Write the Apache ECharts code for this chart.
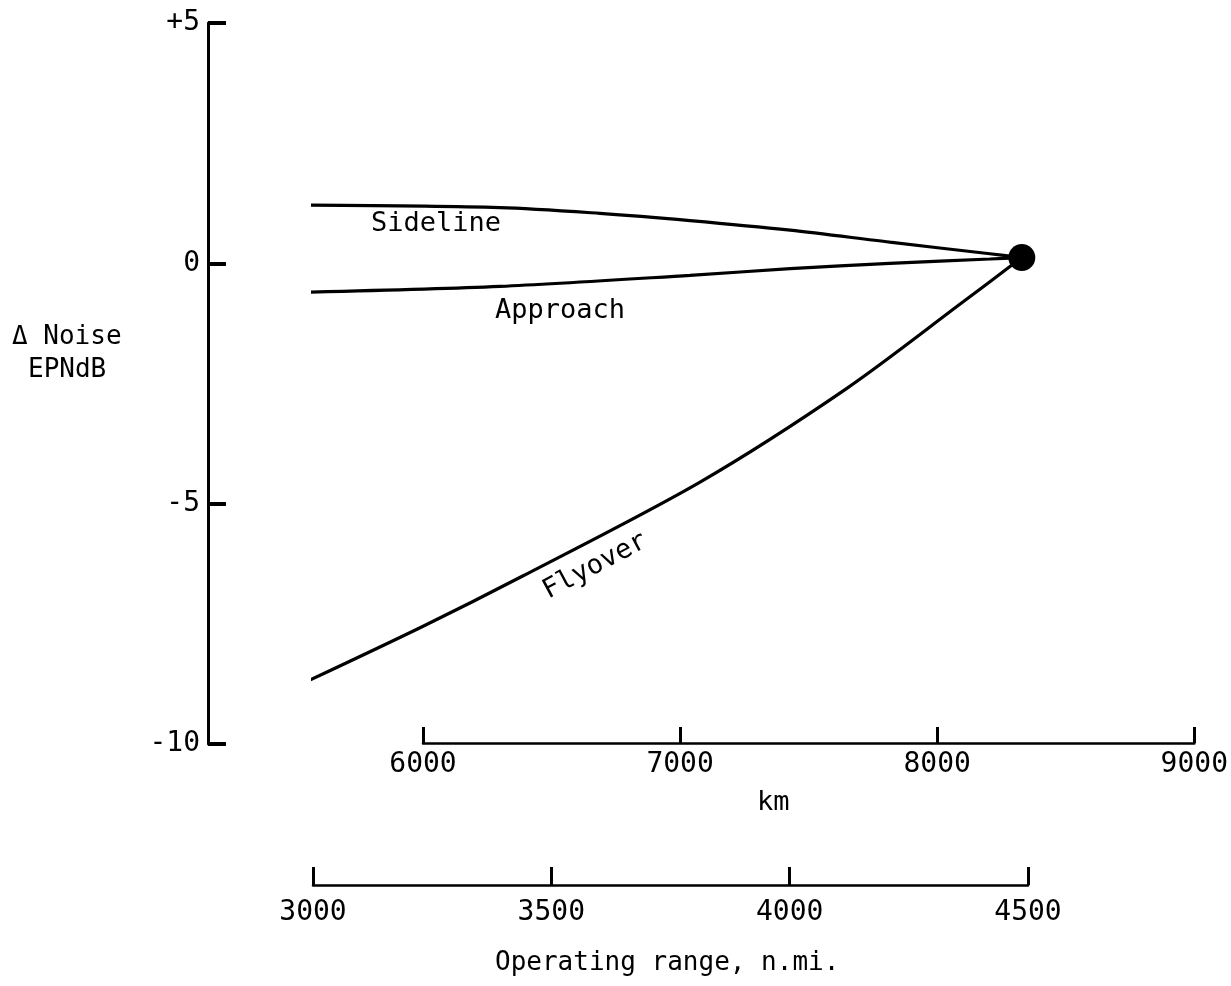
<!DOCTYPE html>
<html>
<head>
<meta charset="utf-8">
<script src="https://cdn.jsdelivr.net/npm/echarts@6/dist/echarts.min.js"></script>
<style>
html,body{margin:0;padding:0;background:#fff;}
#chart{width:1231px;height:986px;}
</style>
</head>
<body>
<div id="chart"></div>
<script>
// ---- data (operating range in n.mi., delta noise in EPNdB) ----
const sidelineRange = [2987, 3392, 3602, 3791, 4001, 4210, 4420, 4487];
const sidelineNoise = [1.21, 1.16, 1.04, 0.89, 0.69, 0.44, 0.20, 0.12];
const approachRange = [2987, 3392, 3791, 4001, 4210, 4420, 4487];
const approachNoise = [-0.60, -0.48, -0.25, -0.11, 0.00, 0.09, 0.12];
const flyoverRange = [2987, 3231, 3441, 3812, 4120, 4364, 4487];
const flyoverNoise = [-8.70, -7.55, -6.50, -4.55, -2.60, -0.80, 0.12];
const designPoint = [4487, 0.12];
const yTickValues = [5, 0, -5, -10];
const yTickLabels = ['+5', '0', '-5', '-10'];
const kmTicks = [6000, 7000, 8000, 9000];
const nmiTicks = [3000, 3500, 4000, 4500];
const seriesNames = ['Sideline', 'Approach', 'Flyover'];

const FONT = '"DejaVu Sans Mono", "Liberation Mono", monospace';
const INK = '#000';

function zip(a, b) { return a.map((v, i) => [v, b[i]]); }

const chart = echarts.init(document.getElementById('chart'), null, {renderer: 'canvas'});

const lineStyle = {color: INK, width: 3.2};
const plain = v => String(v);

const option = {
  backgroundColor: '#fff',
  animation: false,
  grid: [
    {left: 313, right: 203, top: 23, bottom: 242},
    {left: 423, right: 30, top: 700, height: 43}
  ],
  xAxis: [
    {
      gridIndex: 0, type: 'value', position: 'bottom', offset: 141,
      min: nmiTicks[0], max: nmiTicks[nmiTicks.length - 1], interval: 500,
      axisLine: {show: true, onZero: false, lineStyle: {color: INK, width: 2.5}},
      axisTick: {show: true, inside: true, length: 18, lineStyle: {color: INK, width: 3}},
      axisLabel: {color: INK, fontFamily: FONT, fontSize: 28, margin: 14, formatter: plain},
      splitLine: {show: false}
    },
    {
      gridIndex: 1, type: 'value', position: 'bottom',
      min: kmTicks[0], max: kmTicks[kmTicks.length - 1], interval: 1000,
      axisLine: {show: true, onZero: false, lineStyle: {color: INK, width: 2.5}},
      axisTick: {show: true, inside: true, length: 16, lineStyle: {color: INK, width: 3}},
      axisLabel: {color: INK, fontFamily: FONT, fontSize: 28, margin: 8, formatter: plain},
      splitLine: {show: false}
    }
  ],
  yAxis: [
    {
      gridIndex: 0, type: 'value', position: 'left', offset: 105,
      min: -10, max: 5, interval: 5,
      axisLine: {show: true, onZero: false, lineStyle: {color: INK, width: 3}},
      axisTick: {show: true, inside: true, length: 18, lineStyle: {color: INK, width: 4}},
      axisLabel: {
        color: INK, fontFamily: FONT, fontSize: 28, margin: 8,
        formatter: v => { const i = yTickValues.indexOf(v); return i >= 0 ? yTickLabels[i] : ''; }
      },
      splitLine: {show: false}
    },
    {gridIndex: 1, type: 'value', show: false, min: 0, max: 1}
  ],
  graphic: [
    {type: 'text', left: 12, top: 324, style: {text: 'Δ Noise', font: '26px ' + FONT, fill: INK}},
    {type: 'text', left: 28, top: 357, style: {text: 'EPNdB', font: '26px ' + FONT, fill: INK}},
    {type: 'text', left: 757, top: 789, style: {text: 'km', font: '27px ' + FONT, fill: INK}},
    {type: 'text', left: 495, top: 950, style: {text: 'Operating range, n.mi.', font: '26px ' + FONT, fill: INK}}
  ],
  series: [
    {name: seriesNames[0], type: 'line', xAxisIndex: 0, yAxisIndex: 0, data: zip(sidelineRange, sidelineNoise),
     smooth: 0.3, showSymbol: false, clip: false, lineStyle: lineStyle},
    {name: seriesNames[1], type: 'line', xAxisIndex: 0, yAxisIndex: 0, data: zip(approachRange, approachNoise),
     smooth: 0.3, showSymbol: false, clip: false, lineStyle: lineStyle},
    {name: seriesNames[2], type: 'line', xAxisIndex: 0, yAxisIndex: 0, data: zip(flyoverRange, flyoverNoise),
     smooth: 0.3, showSymbol: false, clip: false, lineStyle: lineStyle},
    {name: 'Design point', type: 'scatter', xAxisIndex: 0, yAxisIndex: 0, data: [designPoint],
     symbol: 'circle', symbolSize: 27, itemStyle: {color: INK, opacity: 1}, clip: false, z: 5}
  ]
};
chart.setOption(option);

// Curve name labels, anchored in data coordinates
const labelAnchors = [
  {text: seriesNames[0], at: [3258, 0.81], rot: 0},
  {text: seriesNames[1], at: [3518, -1.0], rot: 0},
  {text: seriesNames[2], at: [3592, -6.30], rot: 28}
];
const extra = labelAnchors.map(a => {
  const p = chart.convertToPixel({gridIndex: 0}, a.at);
  return {
    type: 'text', x: p[0], y: p[1], rotation: a.rot * Math.PI / 180,
    style: {text: a.text, font: '27px ' + FONT, fill: INK, align: 'center', verticalAlign: 'middle'}
  };
});
chart.setOption({graphic: option.graphic.concat(extra)});
</script>
</body>
</html>
